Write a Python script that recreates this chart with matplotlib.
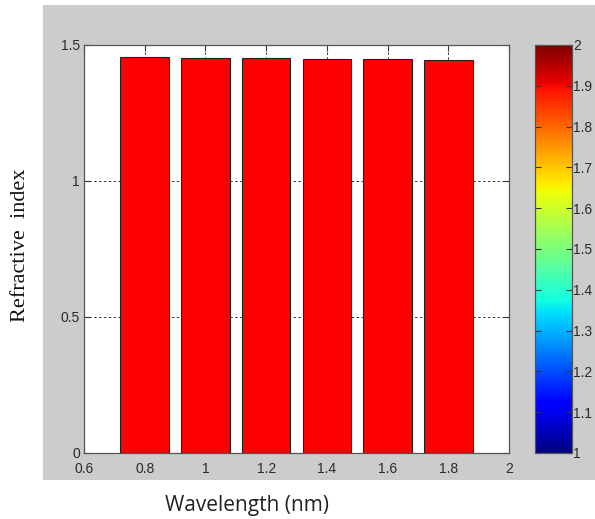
import matplotlib
matplotlib.use("Agg")
import matplotlib.pyplot as plt
import matplotlib as mpl
from matplotlib.patches import Rectangle

# Measured refractive index per wavelength
wavelengths = [0.8, 1.0, 1.2, 1.4, 1.6, 1.8]
refractive_index = [1.457, 1.451, 1.451, 1.449, 1.449, 1.444]
x_ticks = [0.6, 0.8, 1.0, 1.2, 1.4, 1.6, 1.8, 2.0]
x_tick_labels = ["0.6", "0.8", "1", "1.2", "1.4", "1.6", "1.8", "2"]
y_ticks = [0, 0.5, 1.0, 1.5]
y_tick_labels = ["0", "0.5", "1", "1.5"]
cbar_ticks = [1.0, 1.1, 1.2, 1.3, 1.4, 1.5, 1.6, 1.7, 1.8, 1.9, 2.0]
cbar_tick_labels = ["1", "1.1", "1.2", "1.3", "1.4", "1.5", "1.6", "1.7", "1.8", "1.9", "2"]

W, H = 595, 519
fig = plt.figure(figsize=(W / 100, H / 100), dpi=100)
fig.patch.set_facecolor("white")

# Gray figure panel behind the axes
panel = Rectangle((43 / W, 1 - 480 / H), (W - 43) / W, (480 - 5) / H,
                  transform=fig.transFigure, facecolor="#cccccc",
                  edgecolor="none", zorder=-10)
fig.patches.append(panel)

tick_font = dict(family="Liberation Sans", size=10, color="#2a2a2a")

ax = fig.add_axes([84 / W, 1 - 453 / H, 425 / W, 408 / H])
ax.set_facecolor("white")
ax.bar(wavelengths, refractive_index, width=0.16, color="#ff0000",
       edgecolor="#222222", linewidth=0.8, zorder=2)
ax.set_xlim(0.6, 2.0)
ax.set_ylim(0, 1.5)
ax.set_xticks(x_ticks)
ax.set_xticklabels(x_tick_labels, fontdict=tick_font)
ax.set_yticks(y_ticks)
ax.set_yticklabels(y_tick_labels, fontdict=tick_font)
ax.tick_params(direction="in", length=4, width=0.8, color="#333333",
               top=True, right=True)
ax.tick_params(axis="x", pad=6.5)
ax.tick_params(axis="y", pad=3)
ax.grid(True, linestyle=(0, (2.5, 2.5)), color="#333333", linewidth=0.7, zorder=1)
ax.set_axisbelow(True)
for s in ax.spines.values():
    s.set_color("#555555")
    s.set_linewidth(0.9)

fig.text(21 / W, 1 - 245 / H, "Refractive  index", family="Liberation Serif",
         size=16, color="#111111", rotation=90, ha="center", va="center")
fig.text(247 / W, 1 - 505 / H, "Wavelength (nm)", family="Open Sans", size=15,
         color="#222222", ha="center", va="center")

# Colorbar
cax = fig.add_axes([535 / W, 1 - 453 / H, 37 / W, 408 / H])
norm = mpl.colors.Normalize(vmin=1, vmax=2)
cb = mpl.colorbar.ColorbarBase(cax, cmap=mpl.colormaps["jet"], norm=norm,
                               orientation="vertical")
cb.set_ticks(cbar_ticks)
cb.set_ticklabels(cbar_tick_labels)
for lab in cax.get_yticklabels():
    lab.set_fontfamily("Liberation Sans")
    lab.set_fontsize(10)
    lab.set_color("#2a2a2a")
cax.tick_params(direction="in", length=4, width=0.8, color="#333333", pad=1,
                left=True, right=True)
cb.outline.set_edgecolor("#555555")
cb.outline.set_linewidth(0.9)

fig.savefig("out.png", dpi=100)
